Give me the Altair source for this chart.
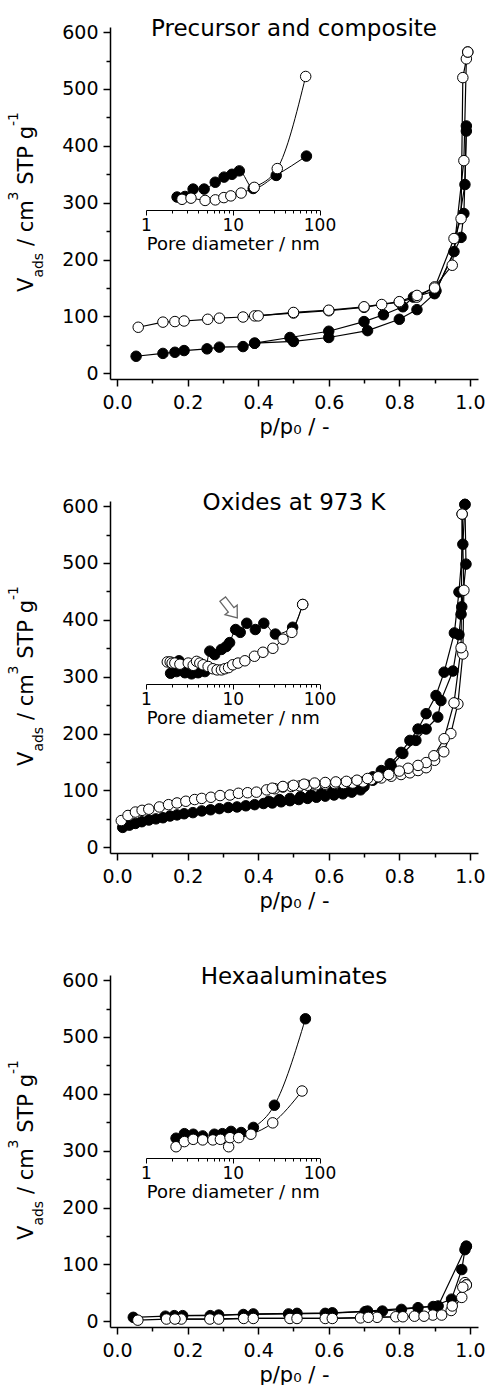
import altair as alt
import pandas as pd

FONT = "DejaVu Sans"

# ---------------- Panel 1: Precursor and composite ----------------
P1_FA_P = [0.054, 0.13, 0.164, 0.19, 0.255, 0.29, 0.357, 0.39, 0.50, 0.60, 0.71, 0.80, 0.85, 0.90, 0.955, 0.986, 0.99]
P1_FA_V = [30, 35, 37, 40, 43, 46, 47, 53, 56, 63, 75, 95, 112, 140, 214, 332, 435]
P1_FD_P = [0.99, 0.983, 0.975, 0.904, 0.84, 0.81, 0.755, 0.70, 0.60, 0.49, 0.39]
P1_FD_V = [426, 281, 239, 145, 134, 117, 103, 91, 74, 63, 53]
P1_OA_P = [0.06, 0.13, 0.164, 0.19, 0.257, 0.29, 0.357, 0.39, 0.50, 0.60, 0.70, 0.75, 0.80, 0.85, 0.90, 0.95, 0.983, 0.99, 0.994]
P1_OA_V = [81, 90, 91, 92, 95, 97, 99, 101, 106, 110, 116, 121, 125, 134, 152, 190, 374, 553, 565]
P1_OD_P = [0.994, 0.98, 0.975, 0.955, 0.90, 0.85, 0.80, 0.70, 0.60, 0.50, 0.40]
P1_OD_V = [565, 520, 272, 237, 150, 137, 126, 117, 111, 107, 101]
P1_IF_D = [2.28, 2.82, 3.49, 4.68, 6.28, 7.94, 9.8, 11.9, 17.2, 31.7, 70.7]
P1_IF_V = [310, 311, 324, 324, 336, 345, 350, 356, 325, 348, 382]
P1_IO_D = [2.6, 3.3, 4.8, 6.3, 7.9, 9.5, 12.5, 17.7, 32.6, 69.3]
P1_IO_V = [306, 308, 304, 305, 309, 312, 317, 327, 360, 522]

# ---------------- Panel 2: Oxides at 973 K ----------------
P2_FA_P = [0.016, 0.035, 0.052, 0.07, 0.09, 0.11, 0.13, 0.15, 0.17, 0.19, 0.215, 0.24, 0.265, 0.29, 0.315,
           0.34, 0.365, 0.39, 0.415, 0.44, 0.465, 0.49, 0.515, 0.54, 0.565, 0.59, 0.615, 0.64, 0.665, 0.69,
           0.70, 0.725, 0.749, 0.777, 0.81, 0.847, 0.876, 0.909, 0.918, 0.952, 0.969, 0.975, 0.977, 0.989, 0.986]
P2_FA_V = [35, 39, 42, 45, 48, 50, 52, 55, 57, 59, 61, 64, 66, 68, 70,
           71, 73, 75, 77, 78, 80, 82, 84, 86, 88, 90, 92, 94, 97, 101,
           107, 118, 130, 143, 165, 188, 208, 229, 258, 310, 374, 410, 423, 498, 603]
P2_FD_P = [0.986, 0.98, 0.969, 0.956, 0.927, 0.904, 0.876, 0.853, 0.83, 0.805, 0.774, 0.749, 0.725, 0.70,
           0.67, 0.64, 0.61, 0.58, 0.55, 0.52, 0.49, 0.46, 0.43]
P2_FD_V = [603, 533, 449, 377, 308, 267, 235, 208, 188, 167, 147, 135, 124, 112,
           106, 101, 98, 95, 92, 89, 86, 84, 81]
P2_OA_P = [0.012, 0.031, 0.052, 0.071, 0.09, 0.12, 0.146, 0.17, 0.195, 0.22, 0.24, 0.266, 0.292, 0.32, 0.344,
           0.37, 0.395, 0.424, 0.447, 0.47, 0.494, 0.518, 0.54, 0.565, 0.59, 0.617, 0.642, 0.668, 0.697, 0.72,
           0.749, 0.777, 0.805, 0.83, 0.853, 0.876, 0.90, 0.926, 0.946, 0.966, 0.98, 0.983, 0.978]
P2_OA_V = [47, 56, 62, 65, 67, 71, 75, 78, 81, 84, 86, 88, 91, 92, 95,
           96, 97, 101, 103, 106, 107, 108, 109, 110, 111, 112, 112, 113, 115, 119,
           122, 125, 128, 131, 135, 140, 153, 168, 200, 252, 340, 452, 586]
P2_OD_P = [0.978, 0.975, 0.955, 0.927, 0.898, 0.876, 0.853, 0.825, 0.80, 0.77, 0.74, 0.71, 0.68, 0.65,
           0.62, 0.59, 0.56, 0.53, 0.50, 0.47, 0.44]
P2_OD_V = [586, 351, 254, 191, 161, 149, 144, 139, 134, 128, 124, 121, 118, 116,
           115, 114, 113, 111, 109, 107, 104]
P2_IF_D = [1.92, 2.25, 2.4, 2.81, 3.35, 3.99, 4.77, 5.44, 6.2, 7.4, 8.4, 9.2, 10.8, 12.2, 14.5, 18.2, 22.8, 31.0, 49.0, 64.0]
P2_IF_V = [306, 309, 328, 307, 305, 307, 309, 345, 339, 348, 353, 360, 383, 378, 394, 383, 394, 375, 387, 427]
P2_IO_D = [1.76, 1.9, 2.0, 2.15, 2.46, 3.07, 3.5, 3.83, 4.17, 4.55, 5.2, 5.9, 6.6, 7.4, 8.1, 8.95, 10.0, 11.5,
           13.8, 17.8, 22.3, 29.0, 38.0, 48.0, 64.0]
P2_IO_V = [326, 326, 324, 324, 322, 324, 320, 327, 324, 321, 318, 314, 312, 312, 314, 316, 321, 324,
           328, 336, 343, 350, 366, 378, 427]
P2_ARROW_D = [9.3]
P2_ARROW_V = [420]

# ---------------- Panel 3: Hexaaluminates ----------------
P3_FA_P = [0.046, 0.137, 0.186, 0.264, 0.358, 0.486, 0.59, 0.703, 0.752, 0.806, 0.853, 0.896, 0.948, 0.977, 0.986, 0.99]
P3_FA_V = [7, 9, 10, 10, 12, 13, 14, 17, 18, 21, 24, 26, 39, 91, 126, 132]
P3_FD_P = [0.99, 0.91, 0.71, 0.61, 0.51, 0.386, 0.288, 0.162]
P3_FD_V = [132, 27, 18, 15, 14, 13, 11, 10]
P3_OA_P = [0.059, 0.14, 0.182, 0.263, 0.359, 0.49, 0.59, 0.69, 0.737, 0.79, 0.843, 0.895, 0.947, 0.977, 0.986, 0.99]
P3_OA_V = [2, 4, 4, 4, 5, 5, 5, 6, 7, 8, 9, 11, 19, 42, 68, 64]
P3_OD_P = [0.99, 0.98, 0.95, 0.92, 0.87, 0.81, 0.712, 0.61, 0.51, 0.386, 0.288, 0.164]
P3_OD_V = [64, 60, 27, 11, 9, 8, 7, 5, 5, 5, 4, 4]
P3_IF_D = [2.22, 2.77, 3.51, 4.5, 6.14, 7.6, 9.55, 12.5, 17.3, 30.2, 68.8]
P3_IF_V = [322, 330, 329, 326, 329, 330, 334, 332, 341, 380, 532]
P3_IO_D = [2.22, 2.77, 3.5, 4.5, 5.9, 7.2, 8.97, 9.3, 11.7, 16.2, 28.9, 62.9]
P3_IO_V = [307, 316, 320, 319, 319, 320, 307, 323, 323, 329, 349, 405]

TITLES = ["Precursor and composite", "Oxides at 973 K", "Hexaaluminates"]

# y-axis title pieces: (text, font size, x offset, y offset) relative to plot area
YT_TEXT = ["V", "ads", "/ cm", "3", "STP g", "-1"]
YT_SIZE = [21, 14, 21, 14, 21, 14]
YT_X = [-77, -67, -77, -92, -77, -92]
YT_Y = [265, 250.6, 219.1, 173.4, 157.8, 99]

X_TICKS = [0, 0.1, 0.2, 0.3, 0.4, 0.5, 0.6, 0.7, 0.8, 0.9, 1.0]
Y_TICKS = [0, 50, 100, 150, 200, 250, 300, 350, 400, 450, 500, 550, 600]
LOG_TICKS = [1, 2, 3, 4, 5, 6, 7, 8, 9, 10, 20, 30, 40, 50, 60, 70, 80, 90, 100]

W, H = 368, 352


def branch(p, v, name):
    return pd.DataFrame({"p": p, "v": v, "series": name, "i": list(range(len(p)))})


def inset_df(d, v, name):
    return pd.DataFrame({"d": d, "v": v, "series": name})


X_MAIN = alt.X(
    "p:Q",
    scale=alt.Scale(domain=[-0.02, 1.023], nice=False, zero=False),
    axis=alt.Axis(
        values=X_TICKS,
        labelExpr="(round(datum.value*10) % 2 == 0) ? format(datum.value, '.1f') : ''",
        tickSize={"condition": {"test": "round(datum.value*10) % 2 == 0", "value": 7}, "value": 4},
        title="p/p\u2080 / -",
        labelFlush=False,
        labelPadding=7,
        titlePadding=4,
    ),
)
Y_MAIN = alt.Y(
    "v:Q",
    scale=alt.Scale(domain=[-10, 609], nice=False, zero=False),
    axis=alt.Axis(
        values=Y_TICKS,
        labelExpr="(datum.value % 100 == 0) ? format(datum.value, 'd') : ''",
        tickSize={"condition": {"test": "datum.value % 100 == 0", "value": 7}, "value": 4},
        title=None,
        labelPadding=5,
    ),
)
X_INSET = alt.X(
    "d:Q",
    scale=alt.Scale(type="log", domain=[1, 100], range=[36, 209.5], nice=False),
    axis=alt.Axis(
        orient="bottom",
        offset=-169,
        values=LOG_TICKS,
        labelExpr="(datum.value == 1 || datum.value == 10 || datum.value == 100) ? format(datum.value, 'd') : ''",
        tickSize={"condition": {"test": "datum.value == 1 || datum.value == 10 || datum.value == 100", "value": 5}, "value": 3},
        title="Pore diameter / nm",
        titleFontSize=18,
        labelFontSize=17,
        tickWidth=1,
        domainWidth=1,
        labelFlush=False,
        labelOverlap=False,
        labelPadding=2,
        titlePadding=2,
    ),
)


def panel(title, fa, fd, oa, od, inf, ino, arrow=None):
    main_df = pd.concat([fa, fd, oa, od], ignore_index=True)
    filled = pd.concat([fa, fd], ignore_index=True)
    opened = pd.concat([oa, od], ignore_index=True)

    lines = alt.Chart(main_df).mark_line(color="black", strokeWidth=1.2).encode(
        x=X_MAIN, y=Y_MAIN, detail="series:N", order="i:Q")
    pf = alt.Chart(filled).mark_point(shape="circle", filled=True, fill="black", stroke="black",
                                      strokeWidth=1, size=110, opacity=1).encode(x=X_MAIN, y=Y_MAIN)
    po = alt.Chart(opened).mark_point(shape="circle", filled=True, fill="white", stroke="black",
                                      strokeWidth=1, size=110, opacity=1).encode(x=X_MAIN, y=Y_MAIN)

    ytitle = []
    for t, s, xo, yo in zip(YT_TEXT, YT_SIZE, YT_X, YT_Y):
        ytitle.append(
            alt.Chart(alt.Data(values=[{}])).mark_text(
                text=t, angle=270, align="left", baseline="alphabetic", font=FONT, fontSize=s, color="black"
            ).encode(x=alt.value(xo), y=alt.value(yo))
        )

    main = alt.layer(lines, pf, po, *ytitle)

    idf = pd.concat([inf, ino], ignore_index=True)
    il = alt.Chart(idf).mark_line(color="black", strokeWidth=1, interpolate="monotone").encode(
        x=X_INSET, y=Y_MAIN, detail="series:N")
    ipf = alt.Chart(inf).mark_point(shape="circle", filled=True, fill="black", stroke="black",
                                    strokeWidth=1, size=110, opacity=1).encode(x=X_INSET, y=Y_MAIN)
    ipo = alt.Chart(ino).mark_point(shape="circle", filled=True, fill="white", stroke="black",
                                    strokeWidth=1, size=110, opacity=1).encode(x=X_INSET, y=Y_MAIN)
    ilayers = [il, ipf, ipo]
    if arrow is not None:
        ilayers.append(
            alt.Chart(arrow).mark_point(
                shape="M-0.3,-1L0.3,-1L0.3,0.15L0.65,0.15L0,1L-0.65,0.15L-0.3,0.15Z",
                filled=True, fill="white", stroke="#666666", strokeWidth=1.3, size=560, angle=322, opacity=1
            ).encode(x=X_INSET, y=Y_MAIN)
        )
    inset = alt.layer(*ilayers)

    return alt.layer(main, inset).resolve_scale(x="independent").properties(
        width=W, height=H, title=alt.Title(title))


c1 = panel(TITLES[0],
           branch(P1_FA_P, P1_FA_V, "fa"), branch(P1_FD_P, P1_FD_V, "fd"),
           branch(P1_OA_P, P1_OA_V, "oa"), branch(P1_OD_P, P1_OD_V, "od"),
           inset_df(P1_IF_D, P1_IF_V, "if"), inset_df(P1_IO_D, P1_IO_V, "io"))
c2 = panel(TITLES[1],
           branch(P2_FA_P, P2_FA_V, "fa"), branch(P2_FD_P, P2_FD_V, "fd"),
           branch(P2_OA_P, P2_OA_V, "oa"), branch(P2_OD_P, P2_OD_V, "od"),
           inset_df(P2_IF_D, P2_IF_V, "if"), inset_df(P2_IO_D, P2_IO_V, "io"),
           arrow=pd.DataFrame({"d": P2_ARROW_D, "v": P2_ARROW_V}))
c3 = panel(TITLES[2],
           branch(P3_FA_P, P3_FA_V, "fa"), branch(P3_FD_P, P3_FD_V, "fd"),
           branch(P3_OA_P, P3_OA_V, "oa"), branch(P3_OD_P, P3_OD_V, "od"),
           inset_df(P3_IF_D, P3_IF_V, "if"), inset_df(P3_IO_D, P3_IO_V, "io"))

chart = alt.vconcat(c1, c2, c3, spacing=55).properties(
    padding={"left": 7, "top": 18, "right": 0, "bottom": 0},
    background="white",
).configure_view(stroke=None).configure_axis(
    labelFont=FONT, labelFontSize=19, labelColor="black",
    titleFont=FONT, titleFontSize=21, titleFontWeight="normal", titleColor="black",
    tickColor="black", domainColor="black", tickWidth=1.5, domainWidth=1.5, grid=False,
).configure_title(
    font=FONT, fontSize=23, fontWeight="normal", color="black", anchor="middle", frame="group",
    offset=-18, baseline="alphabetic",
)

chart.save("out.html", embed_options={"renderer": "svg", "actions": False})
